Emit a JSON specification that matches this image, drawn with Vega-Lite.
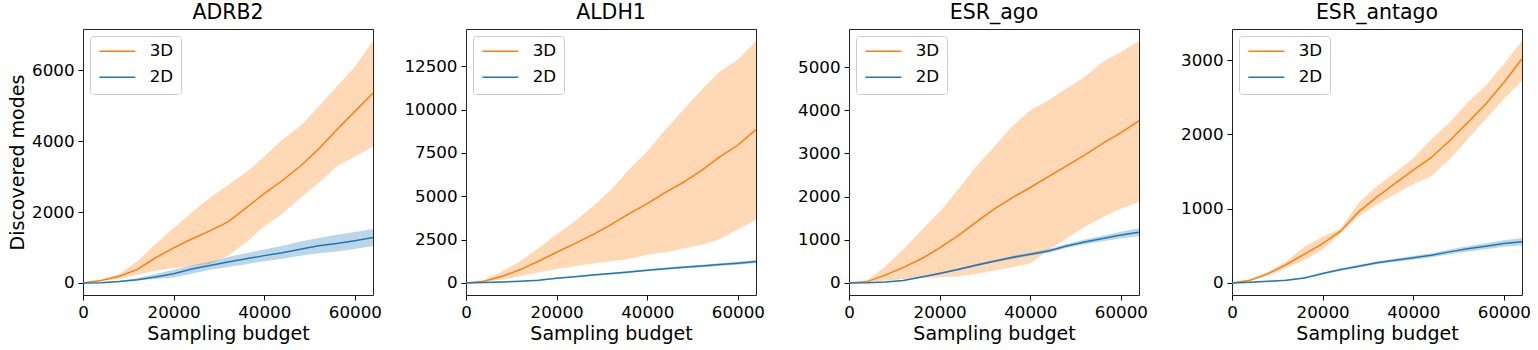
{
  "$schema": "https://vega.github.io/schema/vega-lite/v6.json",
  "padding": {"left": 8, "top": 2, "right": 5, "bottom": 5},
  "spacing": 93,
  "bounds": "flush",
  "config": {
    "font": "DejaVu Sans",
    "view": {"stroke": "#222", "strokeWidth": 1},
    "axis": {"grid": false, "domain": false, "ticks": true, "tickSize": 5, "tickColor": "#000", "tickWidth": 1, "labelFontSize": 16.7, "labelColor": "#000", "labelPadding": 4, "titleFontSize": 19, "titleFontWeight": "normal", "titleColor": "#000", "labelFont": "DejaVu Sans", "titleFont": "DejaVu Sans"},
    "axisX": {"labelFlush": false, "labelOverlap": false},
    "axisY": {"labelOverlap": false},
    "title": {"fontSize": 20.5, "fontWeight": "normal", "font": "DejaVu Sans", "color": "#000", "anchor": "middle", "offset": 6, "baseline": "alphabetic"},
    "legend": {"orient": "top-left", "offset": 7, "padding": 7, "strokeColor": "#ccc", "cornerRadius": 3, "fillColor": "white", "labelFontSize": 16.7, "labelFont": "DejaVu Sans", "labelColor": "#000", "symbolType": "M-1,0L5,0", "symbolSize": 144, "symbolStrokeWidth": 1.5, "symbolOpacity": 1, "symbolFillColor": "transparent", "labelOffset": 36, "rowPadding": 8}
  },
  "resolve": {"legend": {"color": "independent"}, "scale": {"color": "independent"}},
  "datasets": {
    "d": [
      {"p":"ADRB2","s":"3D","x":0,"m":0,"lo":0,"hi":0},
      {"p":"ADRB2","s":"3D","x":4000,"m":70,"lo":55,"hi":90},
      {"p":"ADRB2","s":"3D","x":8000,"m":190,"lo":120,"hi":250},
      {"p":"ADRB2","s":"3D","x":12000,"m":380,"lo":240,"hi":610},
      {"p":"ADRB2","s":"3D","x":16000,"m":710,"lo":340,"hi":1100},
      {"p":"ADRB2","s":"3D","x":20000,"m":990,"lo":420,"hi":1550},
      {"p":"ADRB2","s":"3D","x":24000,"m":1240,"lo":480,"hi":1990},
      {"p":"ADRB2","s":"3D","x":28000,"m":1470,"lo":540,"hi":2400},
      {"p":"ADRB2","s":"3D","x":32000,"m":1720,"lo":770,"hi":2760},
      {"p":"ADRB2","s":"3D","x":36000,"m":2120,"lo":1150,"hi":3120},
      {"p":"ADRB2","s":"3D","x":40000,"m":2520,"lo":1600,"hi":3570},
      {"p":"ADRB2","s":"3D","x":44000,"m":2890,"lo":1950,"hi":4040},
      {"p":"ADRB2","s":"3D","x":48000,"m":3300,"lo":2400,"hi":4430},
      {"p":"ADRB2","s":"3D","x":52000,"m":3780,"lo":2820,"hi":4980},
      {"p":"ADRB2","s":"3D","x":56000,"m":4320,"lo":3290,"hi":5540},
      {"p":"ADRB2","s":"3D","x":60000,"m":4840,"lo":3570,"hi":6100},
      {"p":"ADRB2","s":"3D","x":64000,"m":5360,"lo":3850,"hi":6824},
      {"p":"ADRB2","s":"2D","x":0,"m":0,"lo":0,"hi":0},
      {"p":"ADRB2","s":"2D","x":4000,"m":5,"lo":3,"hi":8},
      {"p":"ADRB2","s":"2D","x":8000,"m":40,"lo":30,"hi":55},
      {"p":"ADRB2","s":"2D","x":12000,"m":90,"lo":70,"hi":140},
      {"p":"ADRB2","s":"2D","x":16000,"m":170,"lo":110,"hi":250},
      {"p":"ADRB2","s":"2D","x":20000,"m":260,"lo":150,"hi":370},
      {"p":"ADRB2","s":"2D","x":24000,"m":390,"lo":260,"hi":490},
      {"p":"ADRB2","s":"2D","x":28000,"m":490,"lo":370,"hi":600},
      {"p":"ADRB2","s":"2D","x":32000,"m":590,"lo":450,"hi":730},
      {"p":"ADRB2","s":"2D","x":36000,"m":680,"lo":530,"hi":840},
      {"p":"ADRB2","s":"2D","x":40000,"m":770,"lo":610,"hi":940},
      {"p":"ADRB2","s":"2D","x":44000,"m":850,"lo":680,"hi":1050},
      {"p":"ADRB2","s":"2D","x":48000,"m":950,"lo":770,"hi":1170},
      {"p":"ADRB2","s":"2D","x":52000,"m":1050,"lo":840,"hi":1270},
      {"p":"ADRB2","s":"2D","x":56000,"m":1110,"lo":890,"hi":1360},
      {"p":"ADRB2","s":"2D","x":60000,"m":1190,"lo":960,"hi":1440},
      {"p":"ADRB2","s":"2D","x":64000,"m":1280,"lo":1040,"hi":1520},

      {"p":"ALDH1","s":"3D","x":0,"m":0,"lo":0,"hi":0},
      {"p":"ALDH1","s":"3D","x":4000,"m":100,"lo":60,"hi":150},
      {"p":"ALDH1","s":"3D","x":8000,"m":380,"lo":190,"hi":670},
      {"p":"ALDH1","s":"3D","x":12000,"m":770,"lo":380,"hi":1250},
      {"p":"ALDH1","s":"3D","x":16000,"m":1250,"lo":620,"hi":2020},
      {"p":"ALDH1","s":"3D","x":20000,"m":1770,"lo":810,"hi":2790},
      {"p":"ALDH1","s":"3D","x":24000,"m":2270,"lo":960,"hi":3560},
      {"p":"ALDH1","s":"3D","x":28000,"m":2790,"lo":1120,"hi":4420},
      {"p":"ALDH1","s":"3D","x":32000,"m":3370,"lo":1250,"hi":5380},
      {"p":"ALDH1","s":"3D","x":36000,"m":4000,"lo":1380,"hi":6540},
      {"p":"ALDH1","s":"3D","x":40000,"m":4580,"lo":1630,"hi":7600},
      {"p":"ALDH1","s":"3D","x":44000,"m":5230,"lo":1770,"hi":8850},
      {"p":"ALDH1","s":"3D","x":48000,"m":5810,"lo":1980,"hi":10000},
      {"p":"ALDH1","s":"3D","x":52000,"m":6500,"lo":2210,"hi":11150},
      {"p":"ALDH1","s":"3D","x":56000,"m":7270,"lo":2540,"hi":12210},
      {"p":"ALDH1","s":"3D","x":60000,"m":7960,"lo":3080,"hi":12880},
      {"p":"ALDH1","s":"3D","x":64000,"m":8850,"lo":3650,"hi":13960},
      {"p":"ALDH1","s":"2D","x":0,"m":0,"lo":0,"hi":0},
      {"p":"ALDH1","s":"2D","x":4000,"m":20,"lo":15,"hi":25},
      {"p":"ALDH1","s":"2D","x":8000,"m":50,"lo":40,"hi":60},
      {"p":"ALDH1","s":"2D","x":12000,"m":90,"lo":75,"hi":105},
      {"p":"ALDH1","s":"2D","x":16000,"m":150,"lo":125,"hi":175},
      {"p":"ALDH1","s":"2D","x":20000,"m":270,"lo":235,"hi":305},
      {"p":"ALDH1","s":"2D","x":24000,"m":360,"lo":320,"hi":400},
      {"p":"ALDH1","s":"2D","x":28000,"m":460,"lo":415,"hi":505},
      {"p":"ALDH1","s":"2D","x":32000,"m":540,"lo":490,"hi":590},
      {"p":"ALDH1","s":"2D","x":36000,"m":630,"lo":575,"hi":685},
      {"p":"ALDH1","s":"2D","x":40000,"m":730,"lo":670,"hi":790},
      {"p":"ALDH1","s":"2D","x":44000,"m":820,"lo":755,"hi":885},
      {"p":"ALDH1","s":"2D","x":48000,"m":900,"lo":830,"hi":970},
      {"p":"ALDH1","s":"2D","x":52000,"m":980,"lo":905,"hi":1055},
      {"p":"ALDH1","s":"2D","x":56000,"m":1060,"lo":980,"hi":1140},
      {"p":"ALDH1","s":"2D","x":60000,"m":1140,"lo":1055,"hi":1225},
      {"p":"ALDH1","s":"2D","x":64000,"m":1230,"lo":1140,"hi":1320},

      {"p":"ESR_ago","s":"3D","x":0,"m":0,"lo":0,"hi":0},
      {"p":"ESR_ago","s":"3D","x":4000,"m":30,"lo":15,"hi":50},
      {"p":"ESR_ago","s":"3D","x":8000,"m":180,"lo":55,"hi":380},
      {"p":"ESR_ago","s":"3D","x":12000,"m":360,"lo":90,"hi":780},
      {"p":"ESR_ago","s":"3D","x":16000,"m":560,"lo":110,"hi":1220},
      {"p":"ESR_ago","s":"3D","x":20000,"m":810,"lo":130,"hi":1650},
      {"p":"ESR_ago","s":"3D","x":24000,"m":1090,"lo":150,"hi":2150},
      {"p":"ESR_ago","s":"3D","x":28000,"m":1400,"lo":205,"hi":2690},
      {"p":"ESR_ago","s":"3D","x":32000,"m":1710,"lo":290,"hi":3150},
      {"p":"ESR_ago","s":"3D","x":36000,"m":1970,"lo":360,"hi":3620},
      {"p":"ESR_ago","s":"3D","x":40000,"m":2210,"lo":450,"hi":4000},
      {"p":"ESR_ago","s":"3D","x":44000,"m":2460,"lo":760,"hi":4230},
      {"p":"ESR_ago","s":"3D","x":48000,"m":2710,"lo":1030,"hi":4500},
      {"p":"ESR_ago","s":"3D","x":52000,"m":2960,"lo":1300,"hi":4770},
      {"p":"ESR_ago","s":"3D","x":56000,"m":3230,"lo":1520,"hi":5120},
      {"p":"ESR_ago","s":"3D","x":60000,"m":3480,"lo":1720,"hi":5350},
      {"p":"ESR_ago","s":"3D","x":64000,"m":3750,"lo":1880,"hi":5600},
      {"p":"ESR_ago","s":"2D","x":0,"m":0,"lo":0,"hi":0},
      {"p":"ESR_ago","s":"2D","x":4000,"m":5,"lo":3,"hi":7},
      {"p":"ESR_ago","s":"2D","x":8000,"m":20,"lo":15,"hi":25},
      {"p":"ESR_ago","s":"2D","x":12000,"m":58,"lo":48,"hi":68},
      {"p":"ESR_ago","s":"2D","x":16000,"m":135,"lo":120,"hi":150},
      {"p":"ESR_ago","s":"2D","x":20000,"m":220,"lo":200,"hi":240},
      {"p":"ESR_ago","s":"2D","x":24000,"m":310,"lo":285,"hi":335},
      {"p":"ESR_ago","s":"2D","x":28000,"m":410,"lo":380,"hi":440},
      {"p":"ESR_ago","s":"2D","x":32000,"m":500,"lo":470,"hi":530},
      {"p":"ESR_ago","s":"2D","x":36000,"m":590,"lo":555,"hi":625},
      {"p":"ESR_ago","s":"2D","x":40000,"m":665,"lo":630,"hi":700},
      {"p":"ESR_ago","s":"2D","x":44000,"m":740,"lo":700,"hi":780},
      {"p":"ESR_ago","s":"2D","x":48000,"m":855,"lo":810,"hi":900},
      {"p":"ESR_ago","s":"2D","x":52000,"m":948,"lo":893,"hi":1003},
      {"p":"ESR_ago","s":"2D","x":56000,"m":1030,"lo":965,"hi":1095},
      {"p":"ESR_ago","s":"2D","x":60000,"m":1108,"lo":1033,"hi":1183},
      {"p":"ESR_ago","s":"2D","x":64000,"m":1175,"lo":1085,"hi":1265},

      {"p":"ESR_antago","s":"3D","x":0,"m":0,"lo":0,"hi":0},
      {"p":"ESR_antago","s":"3D","x":4000,"m":35,"lo":25,"hi":45},
      {"p":"ESR_antago","s":"3D","x":8000,"m":125,"lo":100,"hi":150},
      {"p":"ESR_antago","s":"3D","x":12000,"m":248,"lo":205,"hi":293},
      {"p":"ESR_antago","s":"3D","x":16000,"m":388,"lo":310,"hi":490},
      {"p":"ESR_antago","s":"3D","x":20000,"m":530,"lo":450,"hi":621},
      {"p":"ESR_antago","s":"3D","x":24000,"m":700,"lo":670,"hi":735},
      {"p":"ESR_antago","s":"3D","x":28000,"m":960,"lo":900,"hi":1080},
      {"p":"ESR_antago","s":"3D","x":32000,"m":1160,"lo":1058,"hi":1305},
      {"p":"ESR_antago","s":"3D","x":36000,"m":1340,"lo":1193,"hi":1486},
      {"p":"ESR_antago","s":"3D","x":40000,"m":1520,"lo":1330,"hi":1680},
      {"p":"ESR_antago","s":"3D","x":44000,"m":1690,"lo":1441,"hi":1937},
      {"p":"ESR_antago","s":"3D","x":48000,"m":1915,"lo":1667,"hi":2160},
      {"p":"ESR_antago","s":"3D","x":52000,"m":2160,"lo":1937,"hi":2430},
      {"p":"ESR_antago","s":"3D","x":56000,"m":2410,"lo":2207,"hi":2658},
      {"p":"ESR_antago","s":"3D","x":60000,"m":2700,"lo":2477,"hi":2950},
      {"p":"ESR_antago","s":"3D","x":64000,"m":3020,"lo":2725,"hi":3258},
      {"p":"ESR_antago","s":"2D","x":0,"m":0,"lo":0,"hi":0},
      {"p":"ESR_antago","s":"2D","x":4000,"m":10,"lo":7,"hi":13},
      {"p":"ESR_antago","s":"2D","x":8000,"m":22,"lo":17,"hi":27},
      {"p":"ESR_antago","s":"2D","x":12000,"m":36,"lo":30,"hi":42},
      {"p":"ESR_antago","s":"2D","x":16000,"m":67,"lo":59,"hi":75},
      {"p":"ESR_antago","s":"2D","x":20000,"m":126,"lo":114,"hi":138},
      {"p":"ESR_antago","s":"2D","x":24000,"m":180,"lo":165,"hi":195},
      {"p":"ESR_antago","s":"2D","x":28000,"m":225,"lo":207,"hi":243},
      {"p":"ESR_antago","s":"2D","x":32000,"m":270,"lo":250,"hi":290},
      {"p":"ESR_antago","s":"2D","x":36000,"m":306,"lo":284,"hi":328},
      {"p":"ESR_antago","s":"2D","x":40000,"m":338,"lo":313,"hi":363},
      {"p":"ESR_antago","s":"2D","x":44000,"m":373,"lo":345,"hi":401},
      {"p":"ESR_antago","s":"2D","x":48000,"m":418,"lo":386,"hi":450},
      {"p":"ESR_antago","s":"2D","x":52000,"m":459,"lo":423,"hi":495},
      {"p":"ESR_antago","s":"2D","x":56000,"m":495,"lo":455,"hi":535},
      {"p":"ESR_antago","s":"2D","x":60000,"m":531,"lo":486,"hi":576},
      {"p":"ESR_antago","s":"2D","x":64000,"m":554,"lo":504,"hi":604}
    ]
  },
  "hconcat": [
    {
      "width": 290, "height": 266,
      "title": "ADRB2",
      "data": {"name": "d"},
      "transform": [{"filter": "datum.p == 'ADRB2'"}],
      "encoding": {
        "x": {"field": "x", "type": "quantitative", "scale": {"domain": [0, 64000], "nice": false, "zero": false}, "axis": {"values": [0, 20000, 40000, 60000], "format": "d", "title": "Sampling budget"}},
        "color": {"field": "s", "type": "nominal", "scale": {"domain": ["3D", "2D"], "range": ["#ff7f0e", "#1f77b4"]}, "legend": {"title": null}}
      },
      "layer": [
        {"mark": {"type": "area", "fillOpacity": 0.3, "strokeWidth": 0},
         "encoding": {
           "y": {"field": "lo", "type": "quantitative", "stack": null, "scale": {"domain": [-341, 7165], "nice": false, "zero": false}, "axis": {"values": [0, 2000, 4000, 6000], "format": "d", "title": "Discovered modes"}},
           "y2": {"field": "hi"}
         }},
        {"mark": {"type": "line", "strokeWidth": 1.5},
         "encoding": {"y": {"field": "m", "type": "quantitative"}}}
      ]
    },
    {
      "width": 290, "height": 266,
      "title": "ALDH1",
      "data": {"name": "d"},
      "transform": [{"filter": "datum.p == 'ALDH1'"}],
      "encoding": {
        "x": {"field": "x", "type": "quantitative", "scale": {"domain": [0, 64000], "nice": false, "zero": false}, "axis": {"values": [0, 20000, 40000, 60000], "format": "d", "title": "Sampling budget"}},
        "color": {"field": "s", "type": "nominal", "scale": {"domain": ["3D", "2D"], "range": ["#ff7f0e", "#1f77b4"]}, "legend": {"title": null}}
      },
      "layer": [
        {"mark": {"type": "area", "fillOpacity": 0.3, "strokeWidth": 0},
         "encoding": {
           "y": {"field": "lo", "type": "quantitative", "stack": null, "scale": {"domain": [-698, 14658], "nice": false, "zero": false}, "axis": {"values": [0, 2500, 5000, 7500, 10000, 12500], "format": "d", "title": null}},
           "y2": {"field": "hi"}
         }},
        {"mark": {"type": "line", "strokeWidth": 1.5},
         "encoding": {"y": {"field": "m", "type": "quantitative"}}}
      ]
    },
    {
      "width": 290, "height": 266,
      "title": "ESR_ago",
      "data": {"name": "d"},
      "transform": [{"filter": "datum.p == 'ESR_ago'"}],
      "encoding": {
        "x": {"field": "x", "type": "quantitative", "scale": {"domain": [0, 64000], "nice": false, "zero": false}, "axis": {"values": [0, 20000, 40000, 60000], "format": "d", "title": "Sampling budget"}},
        "color": {"field": "s", "type": "nominal", "scale": {"domain": ["3D", "2D"], "range": ["#ff7f0e", "#1f77b4"]}, "legend": {"title": null}}
      },
      "layer": [
        {"mark": {"type": "area", "fillOpacity": 0.3, "strokeWidth": 0},
         "encoding": {
           "y": {"field": "lo", "type": "quantitative", "stack": null, "scale": {"domain": [-280, 5880], "nice": false, "zero": false}, "axis": {"values": [0, 1000, 2000, 3000, 4000, 5000], "format": "d", "title": null}},
           "y2": {"field": "hi"}
         }},
        {"mark": {"type": "line", "strokeWidth": 1.5},
         "encoding": {"y": {"field": "m", "type": "quantitative"}}}
      ]
    },
    {
      "width": 290, "height": 266,
      "title": "ESR_antago",
      "data": {"name": "d"},
      "transform": [{"filter": "datum.p == 'ESR_antago'"}],
      "encoding": {
        "x": {"field": "x", "type": "quantitative", "scale": {"domain": [0, 64000], "nice": false, "zero": false}, "axis": {"values": [0, 20000, 40000, 60000], "format": "d", "title": "Sampling budget"}},
        "color": {"field": "s", "type": "nominal", "scale": {"domain": ["3D", "2D"], "range": ["#ff7f0e", "#1f77b4"]}, "legend": {"title": null}}
      },
      "layer": [
        {"mark": {"type": "area", "fillOpacity": 0.3, "strokeWidth": 0},
         "encoding": {
           "y": {"field": "lo", "type": "quantitative", "stack": null, "scale": {"domain": [-163, 3421], "nice": false, "zero": false}, "axis": {"values": [0, 1000, 2000, 3000], "format": "d", "title": null}},
           "y2": {"field": "hi"}
         }},
        {"mark": {"type": "line", "strokeWidth": 1.5},
         "encoding": {"y": {"field": "m", "type": "quantitative"}}}
      ]
    }
  ]
}
